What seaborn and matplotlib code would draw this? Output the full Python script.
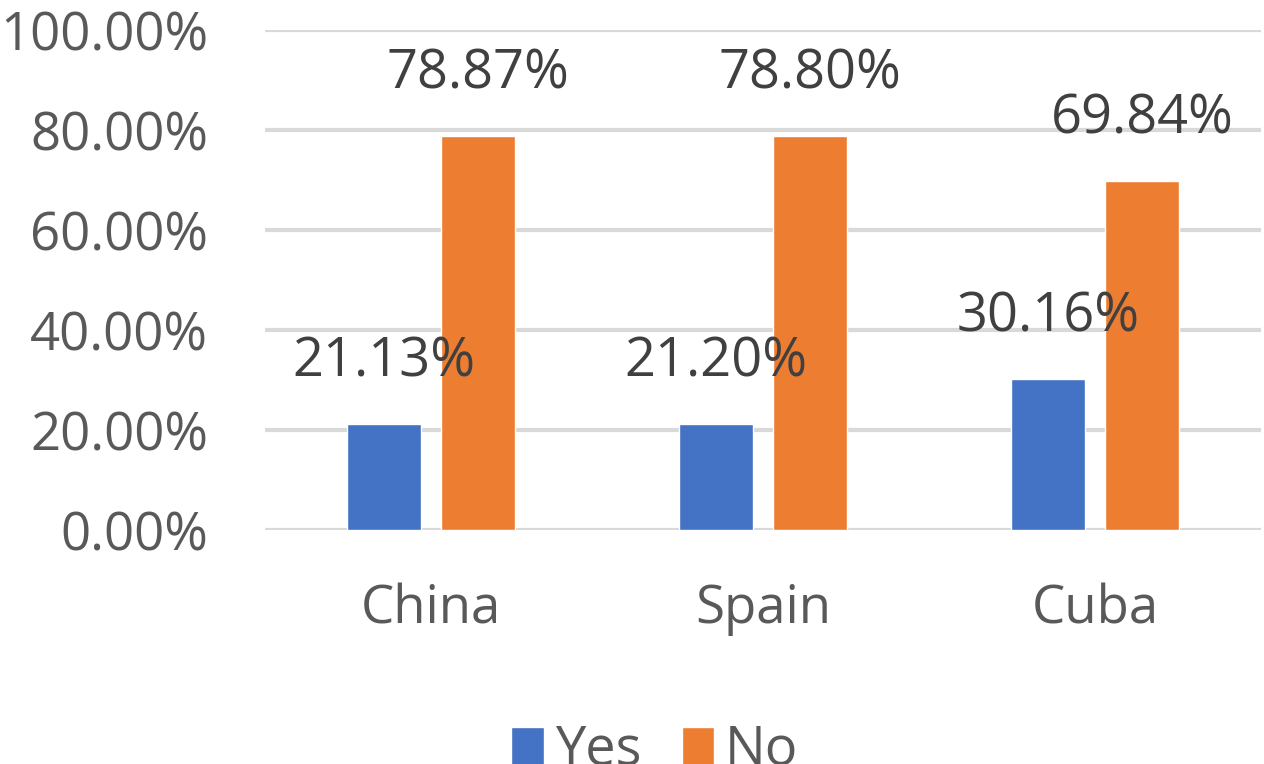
import pandas as pd
import seaborn as sns
import matplotlib.pyplot as plt
from matplotlib.patches import Patch

# chart data
countries = ['China', 'Spain', 'Cuba']
yes_pct = [21.13, 21.20, 30.16]
no_pct = [78.87, 78.80, 69.84]
answers = ['Yes', 'No']
colors = ['#4472C4', '#ED7D31']

df = pd.DataFrame({
    'country': countries * 2,
    'answer': ['Yes'] * 3 + ['No'] * 3,
    'pct': yes_pct + no_pct,
})

sns.set_theme(style='white')
plt.rcParams['font.family'] = ['Open Sans', 'DejaVu Sans']

fig = plt.figure(figsize=(12.64, 7.64), dpi=100)
ax = fig.add_axes([265 / 1264, 1 - 530 / 764, 996 / 1264, 500 / 764])

sns.barplot(data=df, x='country', y='pct', hue='answer', hue_order=answers,
            palette=colors, width=0.566, gap=0.212, ax=ax, legend=False,
            saturation=1, errorbar=None)

ax.set_ylim(0, 100)
ax.set_xlim(-0.5, 2.5)
ax.set_yticks([0, 20, 40, 60, 80, 100])
ax.set_yticklabels([f'{v:.2f}%' for v in [0, 20, 40, 60, 80, 100]])
ax.yaxis.grid(True, color='#d9d9d9', linewidth=3)
ax.set_axisbelow(True)
for s in ax.spines.values():
    s.set_visible(False)
ax.set_xlabel('')
ax.set_ylabel('')
ax.tick_params(axis='y', length=0, pad=41, labelsize=38, labelcolor='#595959')
ax.tick_params(axis='x', length=0, pad=38, labelsize=38, labelcolor='#595959')

# data labels above bars
for cont, vals in zip(ax.containers, [yes_pct, no_pct]):
    for bar, v in zip(cont, vals):
        ax.annotate(f'{v:.2f}%', (bar.get_x() + bar.get_width() / 2, bar.get_height()),
                    xytext=(0, 44.6), textcoords='offset points',
                    ha='center', va='center', fontsize=39, color='#404040')

handles = [Patch(facecolor=c, label=a) for c, a in zip(colors, answers)]
fig.legend(handles=handles, loc='center', bbox_to_anchor=(655 / 1264, 1 - 750 / 764),
           ncol=2, frameon=False, fontsize=39, labelcolor='#595959',
           handlelength=0.6, handleheight=0.7, handletextpad=0.2, columnspacing=0.75,
           borderpad=0)

fig.savefig('out.png', dpi=100)
